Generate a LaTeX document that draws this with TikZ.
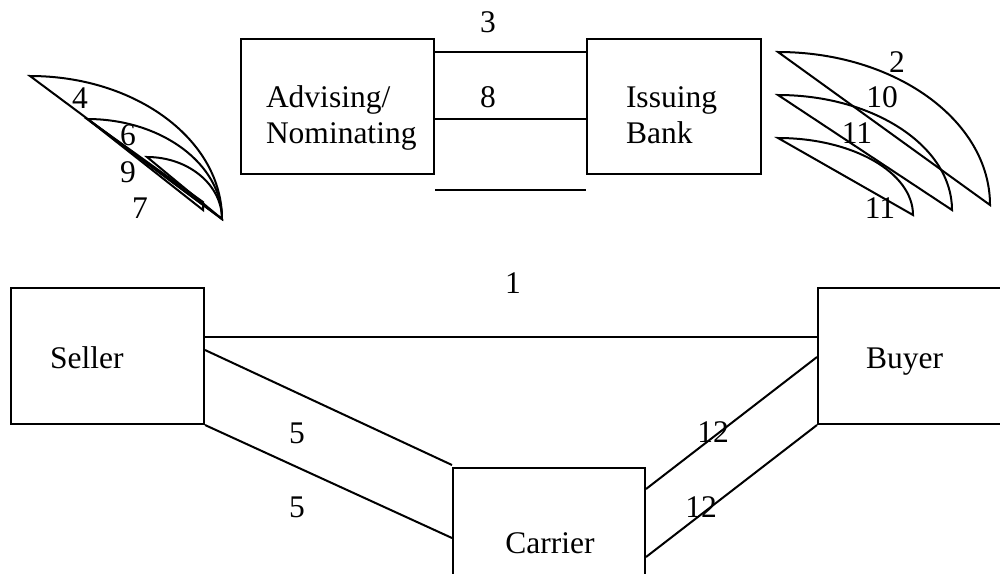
\documentclass[tikz,border=0pt]{standalone}
\usepackage{fontspec}
\setmainfont{Liberation Serif}
\begin{document}
\begin{tikzpicture}[x=1pt,y=-1pt,line width=2pt,line join=miter,
  box/.style={draw,rectangle,inner sep=0pt,anchor=north west},
  txt/.style={inner sep=0pt,font=\fontsize{31.5}{36}\selectfont,align=left},
  num/.style={inner sep=0pt,font=\fontsize{31.5}{36}\selectfont}]
\useasboundingbox (0,0) rectangle (1000,573);
\clip (0,0) rectangle (1000,573);

% parties
\node[box,minimum width=193pt,minimum height=135pt] (adv) at (240,38) {};
\node[box,minimum width=174pt,minimum height=135pt] (iss) at (586,38) {};
\node[box,minimum width=193pt,minimum height=136pt] (seller) at (10,287) {};
\node[box,minimum width=193pt,minimum height=136pt] (buyer) at (817,287) {};
\node[box,minimum width=192pt,minimum height=140pt] (carrier) at (452,467) {};

% box captions (base anchor sits on the last line)
\node[txt,anchor=base west] (advtxt) at (265,143) {Advising/\\Nominating};
\node[txt,anchor=base west] (isstxt) at (625,143) {Issuing\\Bank};
\node[txt,anchor=base west] (sellertxt) at (49,368) {Seller};
\node[txt,anchor=base west] (buyertxt) at (865,368) {Buyer};
\node[txt,anchor=base] (carriertxt) at (550,553) {Carrier};

% links between the banks
\draw ([yshift=-14pt]adv.north east) -- ([yshift=-14pt]iss.north west);
\draw ([yshift=-81pt]adv.north east) -- ([yshift=-81pt]iss.north west);
\draw ([yshift=-15pt]adv.south east) -- ([yshift=-15pt]iss.south west);
\node[num] (n3) at (488,22) {3};
\node[num] (n8) at (488,97) {8};

% seller / buyer / carrier links
\draw ([yshift=-50pt]seller.north east) -- ([yshift=-50pt]buyer.north west);
\draw ([yshift=-63pt]seller.north east) -- ([yshift=2pt]carrier.north west);
\draw (seller.south east) -- ([yshift=-71pt]carrier.north west);
\draw ([yshift=-22pt]carrier.north east) -- ([yshift=-70pt]buyer.north west);
\draw ([yshift=-90pt]carrier.north east) -- (buyer.south west);
\node[num] (n1) at (513,283) {1};
\node[num] (n5a) at (297,433) {5};
\node[num] (n5b) at (297,507) {5};
\node[num] (n12a) at (713,432) {12};
\node[num] (n12b) at (701,507) {12};

% arc segments beside the issuing bank
\draw (778,52) .. controls (895,52) and (990,120.5) .. (990,205) -- cycle;
\draw (778,95) .. controls (874,95) and (952,146.5) .. (952,210) -- cycle;
\draw (778,138) .. controls (852.6,138) and (913,172.5) .. (913,215) -- cycle;
\node[num] (n2) at (897,62) {2};
\node[num] (n10) at (882,97) {10};
\node[num] (n11a) at (857,133) {11};
\node[num] (n11b) at (880,208) {11};

% arc segments beside the advising bank
\draw (30,76) .. controls (136,76) and (222,140) .. (222,219) -- cycle;
\draw (87,119) .. controls (161.6,119) and (222,164) .. (222,219) -- cycle;
\draw (147,157) .. controls (188.4,157) and (222,184.8) .. (222,219) -- cycle;
\draw (90,121) -- (203,202) -- (203,210) -- cycle;
\node[num] (n4) at (80,98) {4};
\node[num] (n6) at (128,135) {6};
\node[num] (n9) at (128,172) {9};
\node[num] (n7) at (140,208) {7};
\end{tikzpicture}
\end{document}
